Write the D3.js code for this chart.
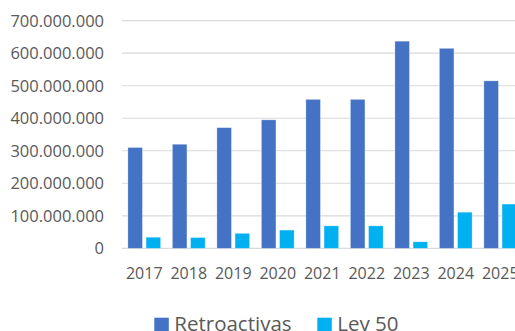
<html>
<head>
<script src="https://cdnjs.cloudflare.com/ajax/libs/d3/7.8.5/d3.min.js"></script>
<style>
body { margin: 0; background: white; overflow: hidden; }
svg { display: block; font-family: "Open Sans", sans-serif; }
</style>
</head>
<body>
<svg id="canvas" width="515" height="331"></svg>
<script>
// data
var years = ["2017", "2018", "2019", "2020", "2021", "2022", "2023", "2024", "2025"];
var seriesNames = ["Retroactivas", "Ley 50"];
var retroactivas = [310e6, 320e6, 371e6, 395e6, 458e6, 458e6, 637e6, 615e6, 515e6];
var ley50 = [34e6, 33e6, 46e6, 56e6, 69e6, 69e6, 20e6, 111e6, 136e6];
var yTicks = [0, 100e6, 200e6, 300e6, 400e6, 500e6, 600e6, 700e6];
var colors = ["#4472C4", "#00B0F0"];

var svg = d3.select("#canvas");
var locale = d3.formatLocale({decimal: ",", thousands: ".", grouping: [3], currency: ["", ""]});
var fmt = locale.format(",");

var y = d3.scaleLinear().domain([0, 700e6]).range([248.3, 20.7]);
var x0 = d3.scaleBand().domain(years).range([122, 522.5]);
var x1 = d3.scaleBand().domain(seriesNames).range([5.9, x0.bandwidth() - 5.9]).paddingInner(0.2);

// gridlines
svg.append("g").selectAll("line").data(yTicks).enter().append("line")
    .attr("x1", 122).attr("x2", 515)
    .attr("y1", d => y(d)).attr("y2", d => y(d))
    .attr("stroke", "#d9d9d9").attr("stroke-width", 1.2);

// y labels
svg.append("g").selectAll("text").data(yTicks).enter().append("text")
    .attr("x", 104).attr("y", d => y(d)).attr("dy", "0.36em")
    .attr("text-anchor", "end").attr("fill", "#595959")
    .style("font-size", "16.5px")
    .text(d => fmt(d));

var rows = years.map((yr, i) => ({year: yr, vals: [retroactivas[i], ley50[i]]}));
var groups = svg.append("g").selectAll("g").data(rows).enter().append("g")
    .attr("transform", d => "translate(" + x0(d.year) + ",0)");
groups.selectAll("rect").data(d => d.vals.map((v, k) => ({name: seriesNames[k], v: v, k: k})))
    .enter().append("rect")
    .attr("x", d => x1(d.name)).attr("width", x1.bandwidth())
    .attr("y", d => y(d.v)).attr("height", d => y(0) - y(d.v))
    .attr("fill", d => colors[d.k])
    .attr("stroke", "#ffffff").attr("stroke-opacity", 0.4).attr("stroke-width", 0.7);

// x labels
svg.append("g").selectAll("text").data(years).enter().append("text")
    .attr("x", d => x0(d) + x0.bandwidth() / 2).attr("y", 272.8).attr("dy", "0.36em")
    .attr("text-anchor", "middle").attr("fill", "#595959")
    .style("font-size", "16px")
    .text(d => d);

// legend
var legend = svg.append("g");
var legX = [154.3, 317.3];
seriesNames.forEach((n, i) => {
    legend.append("rect").attr("x", legX[i]).attr("y", 317.7).attr("width", 14.5).attr("height", 14.5)
        .attr("fill", colors[i]);
    legend.append("text").attr("x", legX[i] + 20).attr("y", 331)
        .attr("fill", "#595959").style("font-size", "20.5px").text(n);
});
</script>
</body>
</html>
